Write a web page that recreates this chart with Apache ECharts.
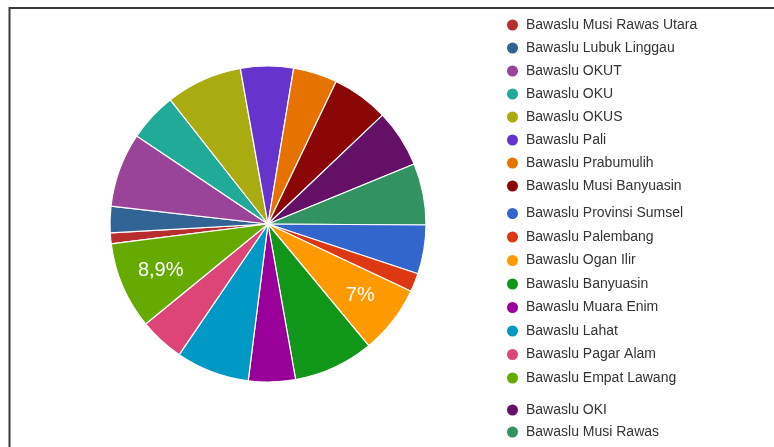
<!DOCTYPE html>
<html>
<head>
<meta charset="utf-8">
<script src="https://cdn.jsdelivr.net/npm/echarts@6/dist/echarts.min.js"></script>
<style>
  html, body { margin: 0; padding: 0; background: #fff; }
  #chart { width: 774px; height: 447px; }
</style>
</head>
<body>
<div id="chart"></div>
<script>
// Slice names in clockwise drawing order (starting with Musi Rawas Utara)
const sliceNames = [
  "Bawaslu Musi Rawas Utara", "Bawaslu Lubuk Linggau", "Bawaslu OKUT", "Bawaslu OKU",
  "Bawaslu OKUS", "Bawaslu Pali", "Bawaslu Prabumulih", "Bawaslu Musi Banyuasin",
  "Bawaslu OKI", "Bawaslu Musi Rawas", "Bawaslu Provinsi Sumsel", "Bawaslu Palembang",
  "Bawaslu Ogan Ilir", "Bawaslu Banyuasin", "Bawaslu Muara Enim", "Bawaslu Lahat",
  "Bawaslu Pagar Alam", "Bawaslu Empat Lawang"
];
// Share of each slice, in percent
const sliceValues = [1.1, 2.7, 7.6, 5.0, 7.8, 5.4, 4.5, 5.8, 5.9, 6.3, 5.0, 1.9, 7.0, 8.2, 4.8, 7.5, 4.6, 8.9];
const sliceColors = [
  "#b82e2e", "#316395", "#994499", "#22aa99", "#aaaa11", "#6633cc", "#e67300", "#8b0707",
  "#651067", "#329262", "#3366cc", "#dc3912", "#ff9900", "#109618", "#990099", "#0099c6",
  "#dd4477", "#66aa00"
];
// Slices whose percentage is printed on the pie
const labelledSlices = ["Bawaslu Ogan Ilir", "Bawaslu Empat Lawang"];
// Legend groups, top to bottom
const legendGroup1 = [
  "Bawaslu Musi Rawas Utara", "Bawaslu Lubuk Linggau", "Bawaslu OKUT", "Bawaslu OKU",
  "Bawaslu OKUS", "Bawaslu Pali", "Bawaslu Prabumulih", "Bawaslu Musi Banyuasin"
];
const legendGroup2 = [
  "Bawaslu Provinsi Sumsel", "Bawaslu Palembang", "Bawaslu Ogan Ilir", "Bawaslu Banyuasin",
  "Bawaslu Muara Enim", "Bawaslu Lahat", "Bawaslu Pagar Alam", "Bawaslu Empat Lawang"
];
const legendGroup3 = ["Bawaslu OKI", "Bawaslu Musi Rawas"];

const total = sliceValues.reduce((a, b) => a + b, 0);
function fmtPct(v) {
  const p = Math.round(v / total * 1000) / 10;
  return (Number.isInteger(p) ? String(p) : p.toFixed(1).replace('.', ',')) + '%';
}

const mainData = sliceNames.map((n, i) => ({ name: n, value: sliceValues[i], itemStyle: { color: sliceColors[i] } }));
const labelData = sliceNames.map((n, i) => ({
  name: n, value: sliceValues[i],
  itemStyle: { color: 'rgba(0,0,0,0)', borderWidth: 0 },
  label: { show: labelledSlices.indexOf(n) >= 0 }
}));

const R = 158;
const CENTER = [268, 224];
const legendBase = {
  orient: 'vertical', left: 505, icon: 'circle', itemWidth: 13, itemHeight: 13,
  padding: 0, selectedMode: false, height: 300,
  textStyle: { fontFamily: 'Liberation Sans, Arial, sans-serif', fontSize: 14, color: '#333', padding: [0, 0, 0, 2] }
};

const chart = echarts.init(document.getElementById('chart'), null, { renderer: 'canvas' });
chart.setOption({
  animation: false,
  backgroundColor: '#ffffff',
  graphic: [{
    type: 'rect', silent: true,
    shape: { x: 9.5, y: 8, width: 820, height: 500 },
    style: { fill: 'none', stroke: '#3a3a3a', lineWidth: 2 }
  }],
  legend: [
    Object.assign({}, legendBase, { top: 17.5, itemGap: 8, data: legendGroup1 }),
    Object.assign({}, legendBase, { top: 206, itemGap: 8.5, data: legendGroup2 }),
    Object.assign({}, legendBase, { top: 402.5, itemGap: 7, height: 60, data: legendGroup3 })
  ],
  series: [
    {
      type: 'pie', name: 'main', center: CENTER, radius: [0, R],
      startAngle: 187.2, clockwise: true, avoidLabelOverlap: false,
      itemStyle: { borderColor: '#ffffff', borderWidth: 1.2 },
      label: { show: false }, labelLine: { show: false },
      emphasis: { disabled: true },
      data: mainData
    },
    {
      type: 'pie', name: 'labels', center: CENTER, radius: [R * 0.44, R],
      startAngle: 187.2, clockwise: true, avoidLabelOverlap: false, silent: true,
      legendHoverLink: false,
      label: {
        position: 'inside', color: '#ffffff', fontSize: 20,
        fontFamily: 'Liberation Sans, Arial, sans-serif',
        formatter: p => fmtPct(p.value)
      },
      labelLine: { show: false },
      emphasis: { disabled: true },
      data: labelData
    }
  ]
});
</script>
</body>
</html>
